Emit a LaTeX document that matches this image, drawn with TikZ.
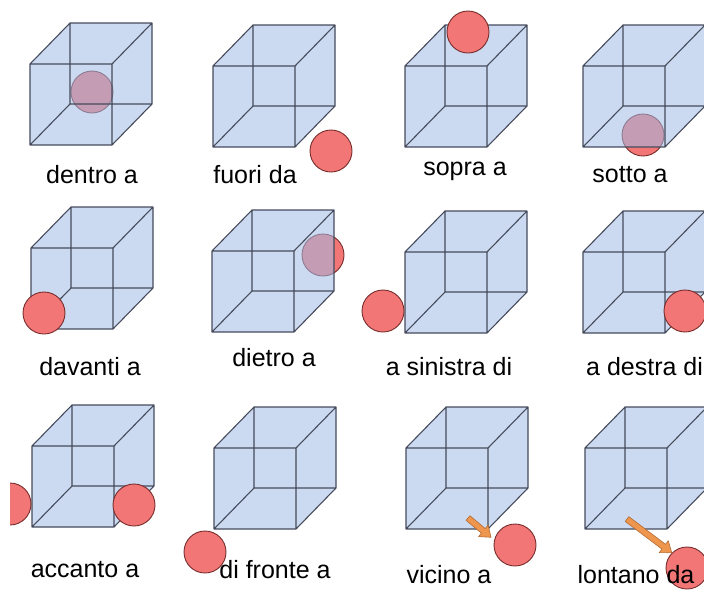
\documentclass[tikz,border=0pt]{standalone}
\usepackage{fontspec}
\setmainfont{Liberation Sans}

\definecolor{cubeblue}{RGB}{160,188,230}
\definecolor{cubeedge}{RGB}{70,76,92}
\definecolor{ballred}{RGB}{242,118,118}
\definecolor{balledge}{RGB}{120,45,45}
\definecolor{arrorange}{RGB}{238,150,78}
\definecolor{arredge}{RGB}{180,105,50}

% see-through cube, front face 82 x 81 with its top left corner at the pic origin
\tikzset{
  cubo/.pic={
    \fill[cubeblue, fill opacity=0.55]
      (0,0) -- (40,-41) -- (122,-41) -- (122,40) -- (82,81) -- (0,81) -- cycle;
    \draw[cubeedge, line width=1.1pt, line join=round]
      (0,0) rectangle (82,81)
      (40,-41) rectangle (122,40)
      (0,0) -- (40,-41) (82,0) -- (122,-41)
      (82,81) -- (122,40) (0,81) -- (40,40);
  }
}
% block arrow: tail point, turn, length
\newcommand{\freccia}[3]{%
  \begin{scope}[shift={#1}, rotate=#2]
    \filldraw[fill=arrorange, draw=arredge, line width=0.6pt, line join=round]
      (0,-3) -- (#3-10,-3) -- (#3-10,-7.5) -- (#3,0) -- (#3-10,7.5)
      -- (#3-10,3) -- (0,3) -- cycle;
  \end{scope}}

\begin{document}
\begin{tikzpicture}[x=1pt, y=-1pt,
    palla/.style={circle, fill=ballred, draw=balledge, line width=0.9pt,
                  minimum size=42pt, inner sep=0pt},
    parola/.style={font=\fontsize{25}{30}\selectfont, inner sep=0pt}]
  \useasboundingbox (0,0) rectangle (704,590);
  \clip (0,0) rectangle (704,590);

  % first row
  \node[palla] (p-dentro) at (92,92) {};
  \pic at (30,64) {cubo};
  \node[parola] (l-dentro) at (92,175) {dentro a};

  \pic at (213,66) {cubo};
  \node[palla] (p-fuori) at (331,151) {};
  \node[parola] (l-fuori) at (255,175) {fuori da};

  \pic at (405,66) {cubo};
  \node[palla] (p-sopra) at (468,32) {};
  \node[parola] (l-sopra) at (465,171) {sopra a};

  \node[palla] (p-sotto) at (643,135) {};
  \pic at (583,66) {cubo};
  \node[parola] (l-sotto) at (630,175) {sotto a};

  % second row
  \pic at (31,248) {cubo};
  \node[palla] (p-davanti) at (44,313) {};
  \node[parola] (l-davanti) at (90,367) {davanti a};

  \node[palla] (p-dietro) at (323,255) {};
  \pic at (212,251) {cubo};
  \node[parola] (l-dietro) at (274,358) {dietro a};

  \pic at (405,252) {cubo};
  \node[palla] (p-sinistra) at (383,311) {};
  \node[parola] (l-sinistra) at (449,367) {a sinistra di};

  \pic at (583,252) {cubo};
  \node[palla] (p-destra) at (685,311) {};
  \node[parola, anchor=west] (l-destra) at (586,367) {a destra di};

  % third row
  \pic at (32,446) {cubo};
  \begin{scope}
    \clip (10,470) rectangle (40,540);
    \node[palla] (p-accanto-sx) at (10,504) {};
  \end{scope}
  \node[palla] (p-accanto-dx) at (134,505) {};
  \node[parola] (l-accanto) at (85,570) {accanto a};

  \pic at (214,448) {cubo};
  \node[palla] (p-fronte) at (205,552) {};
  \node[parola] (l-fronte) at (275,570) {di fronte a};

  \pic at (406,448) {cubo};
  \node[palla] (p-vicino) at (515,545) {};
  \freccia{(468,518)}{-40}{30}
  \node[parola] (l-vicino) at (449,575) {vicino a};

  \pic at (585,448) {cubo};
  \node[palla] (p-lontano) at (687,568) {};
  \freccia{(627,519)}{-37}{56}
  \node[parola] (l-lontano) at (636,575) {lontano da};
\end{tikzpicture}
\end{document}
